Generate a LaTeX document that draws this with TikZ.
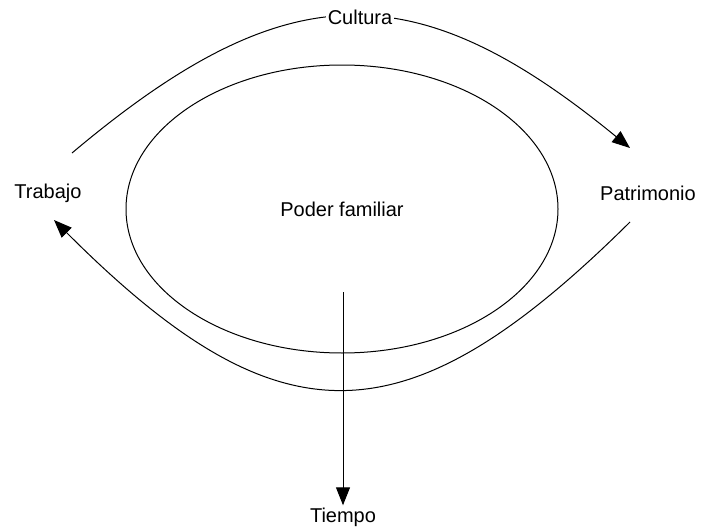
\documentclass[tikz,border=0pt]{standalone}
\usepackage{fontspec}
\setmainfont{Liberation Sans}
\usetikzlibrary{shapes.geometric, arrows.meta}
\tikzstyle{texto} = [inner sep=1pt, font=\fontsize{10}{12}\selectfont]
\tikzstyle{nucleo} = [ellipse, draw, line width=0.5pt, minimum width=216pt, minimum height=144pt, inner sep=0pt, font=\fontsize{10}{12}\selectfont]
\tikzstyle{flecha} = [line width=0.5pt, ->, >={Triangle[length=9pt, width=7pt]}]

\begin{document}
\begin{tikzpicture}[x=0.5pt, y=-0.5pt]
  \useasboundingbox (0,0) rectangle (702,530);
  \node (poder) [nucleo] at (342,209) {Poder familiar};
  \node (trabajo) [texto] at (48,193) {Trabajo};
  \node (patrimonio) [texto] at (648,193) {Patrimonio};
  \node (tiempo) [texto] at (343,517) {Tiempo};
  \coordinate (trabajo-arriba) at (72,153);
  \coordinate (patrimonio-arriba) at (630,148);
  \coordinate (patrimonio-abajo) at (630,222);
  \coordinate (trabajo-abajo) at (54,220);
  \coordinate (origen) at (343,292);
  \draw [flecha] (trabajo-arriba) .. controls (287,-28) and (415,-28) .. (patrimonio-arriba);
  \node (cultura) [texto, fill=white] at (360,17) {Cultura};
  \draw [flecha] (patrimonio-abajo) .. controls (405,445) and (279,445) .. (trabajo-abajo);
  \draw [flecha] (origen) -- (tiempo);
\end{tikzpicture}
\end{document}
